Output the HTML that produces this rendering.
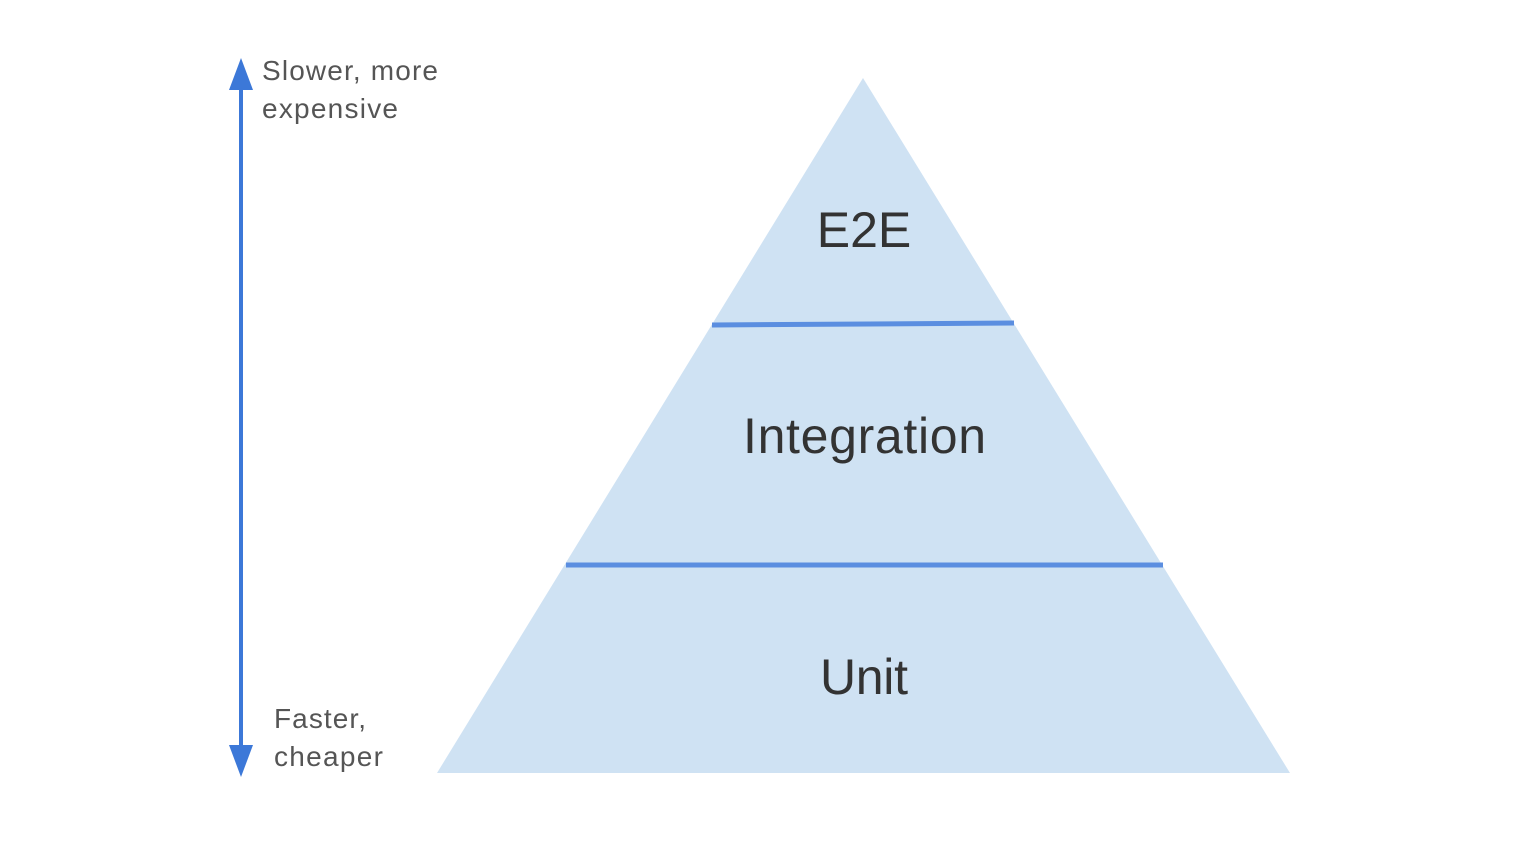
<!DOCTYPE html>
<html><head><meta charset="utf-8"><style>
html,body{margin:0;padding:0;background:#fff;width:1540px;height:843px;overflow:hidden}
</style></head><body>
<svg width="1540" height="843" viewBox="0 0 1540 843" xmlns="http://www.w3.org/2000/svg">
<polygon points="863,78 437,773 1290,773" fill="#cfe2f3"/>
<line x1="712" y1="325" x2="1014" y2="323" stroke="#5b8ee0" stroke-width="5"/>
<line x1="566" y1="565" x2="1163" y2="565" stroke="#5b8ee0" stroke-width="5"/>
<line x1="241" y1="80" x2="241" y2="755" stroke="#3c78d8" stroke-width="4"/>
<polygon points="241,58 229,90 253,90" fill="#3c78d8"/>
<polygon points="241,777 229,745 253,745" fill="#3c78d8"/>
<g font-family="Liberation Sans, sans-serif" fill="#555" font-size="28">
<text x="262" y="80" textLength="176" lengthAdjust="spacing">Slower, more</text>
<text x="262" y="118" textLength="136" lengthAdjust="spacing">expensive</text>
<text x="274" y="728" textLength="92" lengthAdjust="spacing">Faster,</text>
<text x="274" y="766" textLength="109" lengthAdjust="spacing">cheaper</text>
</g>
<g font-family="Liberation Sans, sans-serif" fill="#333" font-size="50">
<text x="864" y="247" text-anchor="middle">E2E</text>
<text x="743" y="453" textLength="243" lengthAdjust="spacing">Integration</text>
<text x="820" y="694" textLength="88" lengthAdjust="spacing">Unit</text>
</g>
</svg>
</body></html>
